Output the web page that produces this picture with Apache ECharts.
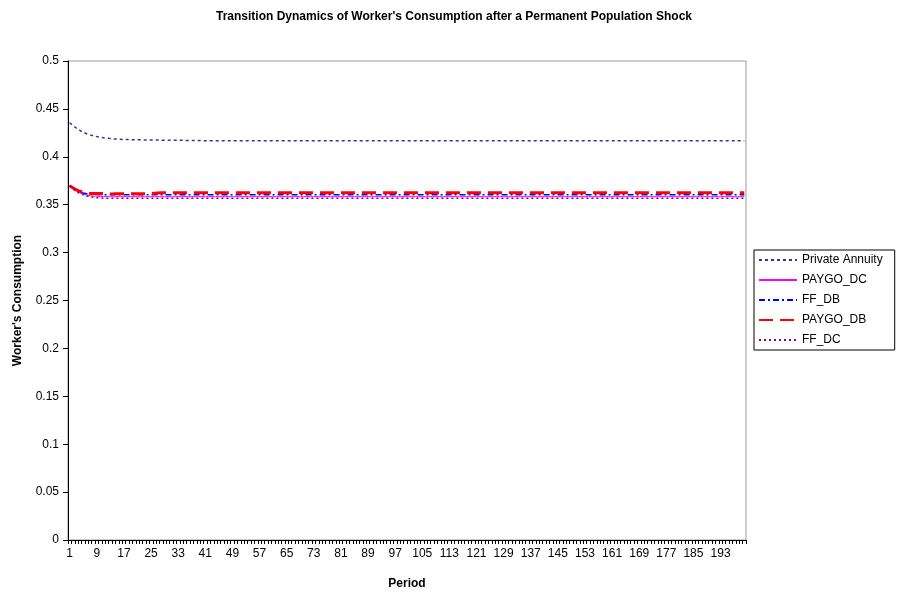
<!DOCTYPE html>
<html>
<head>
<meta charset="utf-8">
<script src="https://cdn.jsdelivr.net/npm/echarts@6/dist/echarts.min.js"></script>
<style>
  html, body { margin: 0; padding: 0; background: #fff; }
  #chart { width: 898px; height: 602px; }
</style>
</head>
<body>
<div id="chart"></div>
<script>
// periods 1..200
const periods = []
for (let i = 1; i <= 200; i++) periods.push(String(i))

const yTicks = { min: 0, max: 0.5, interval: 0.05 }

const privateAnnuity = [
  0.4356, 0.4325, 0.4298, 0.4275, 0.4256, 0.4241, 0.4229, 0.4219, 0.4211, 0.4204, 0.4198, 0.4194, 0.4190, 0.4187, 0.4185, 0.4183, 0.4181, 0.4180, 0.4179, 0.4178,
  0.4177, 0.4177, 0.4176, 0.4176, 0.4175, 0.4175, 0.4175, 0.4174, 0.4174, 0.4174, 0.4173, 0.4173, 0.4173, 0.4172, 0.4171, 0.4170, 0.4170, 0.4169, 0.4169, 0.4169,
  0.4168, 0.4168, 0.4168, 0.4168, 0.4168, 0.4168, 0.4168, 0.4168, 0.4168, 0.4168, 0.4168, 0.4168, 0.4168, 0.4168, 0.4168, 0.4168, 0.4168, 0.4168, 0.4168, 0.4168,
  0.4168, 0.4168, 0.4168, 0.4168, 0.4168, 0.4168, 0.4168, 0.4168, 0.4168, 0.4168, 0.4168, 0.4168, 0.4168, 0.4168, 0.4168, 0.4168, 0.4168, 0.4168, 0.4168, 0.4168,
  0.4168, 0.4168, 0.4168, 0.4168, 0.4168, 0.4168, 0.4168, 0.4168, 0.4168, 0.4168, 0.4168, 0.4168, 0.4168, 0.4168, 0.4168, 0.4168, 0.4168, 0.4168, 0.4168, 0.4168,
  0.4168, 0.4168, 0.4168, 0.4168, 0.4168, 0.4168, 0.4168, 0.4168, 0.4168, 0.4168, 0.4168, 0.4168, 0.4168, 0.4168, 0.4168, 0.4168, 0.4168, 0.4168, 0.4168, 0.4168,
  0.4168, 0.4168, 0.4168, 0.4168, 0.4168, 0.4168, 0.4168, 0.4168, 0.4168, 0.4168, 0.4168, 0.4168, 0.4168, 0.4168, 0.4168, 0.4168, 0.4168, 0.4168, 0.4168, 0.4168,
  0.4168, 0.4168, 0.4168, 0.4168, 0.4168, 0.4168, 0.4168, 0.4168, 0.4168, 0.4168, 0.4168, 0.4168, 0.4168, 0.4168, 0.4168, 0.4168, 0.4168, 0.4168, 0.4168, 0.4168,
  0.4168, 0.4168, 0.4168, 0.4168, 0.4168, 0.4168, 0.4168, 0.4168, 0.4168, 0.4168, 0.4168, 0.4168, 0.4168, 0.4168, 0.4168, 0.4168, 0.4168, 0.4168, 0.4168, 0.4168,
  0.4168, 0.4168, 0.4168, 0.4168, 0.4168, 0.4168, 0.4168, 0.4168, 0.4168, 0.4168, 0.4168, 0.4168, 0.4168, 0.4168, 0.4168, 0.4168, 0.4168, 0.4168, 0.4168, 0.4168
]

const paygoDC = [
  0.3698, 0.3668, 0.3643, 0.3624, 0.3610, 0.3600, 0.3594, 0.3590, 0.3587, 0.3586, 0.3585, 0.3585, 0.3584, 0.3584, 0.3584, 0.3584, 0.3584, 0.3584, 0.3584, 0.3584,
  0.3584, 0.3584, 0.3584, 0.3584, 0.3584, 0.3584, 0.3584, 0.3584, 0.3584, 0.3584, 0.3584, 0.3584, 0.3584, 0.3584, 0.3584, 0.3584, 0.3584, 0.3584, 0.3584, 0.3584,
  0.3584, 0.3584, 0.3584, 0.3584, 0.3584, 0.3584, 0.3584, 0.3584, 0.3584, 0.3584, 0.3584, 0.3584, 0.3584, 0.3584, 0.3584, 0.3584, 0.3584, 0.3584, 0.3584, 0.3584,
  0.3584, 0.3584, 0.3584, 0.3584, 0.3584, 0.3584, 0.3584, 0.3584, 0.3584, 0.3584, 0.3584, 0.3584, 0.3584, 0.3584, 0.3584, 0.3584, 0.3584, 0.3584, 0.3584, 0.3584,
  0.3584, 0.3584, 0.3584, 0.3584, 0.3584, 0.3584, 0.3584, 0.3584, 0.3584, 0.3584, 0.3584, 0.3584, 0.3584, 0.3584, 0.3584, 0.3584, 0.3584, 0.3584, 0.3584, 0.3584,
  0.3584, 0.3584, 0.3584, 0.3584, 0.3584, 0.3584, 0.3584, 0.3584, 0.3584, 0.3584, 0.3584, 0.3584, 0.3584, 0.3584, 0.3584, 0.3584, 0.3584, 0.3584, 0.3584, 0.3584,
  0.3584, 0.3584, 0.3584, 0.3584, 0.3584, 0.3584, 0.3584, 0.3584, 0.3584, 0.3584, 0.3584, 0.3584, 0.3584, 0.3584, 0.3584, 0.3584, 0.3584, 0.3584, 0.3584, 0.3584,
  0.3584, 0.3584, 0.3584, 0.3584, 0.3584, 0.3584, 0.3584, 0.3584, 0.3584, 0.3584, 0.3584, 0.3584, 0.3584, 0.3584, 0.3584, 0.3584, 0.3584, 0.3584, 0.3584, 0.3584,
  0.3584, 0.3584, 0.3584, 0.3584, 0.3584, 0.3584, 0.3584, 0.3584, 0.3584, 0.3584, 0.3584, 0.3584, 0.3584, 0.3584, 0.3584, 0.3584, 0.3584, 0.3584, 0.3584, 0.3584,
  0.3584, 0.3584, 0.3584, 0.3584, 0.3584, 0.3584, 0.3584, 0.3584, 0.3584, 0.3584, 0.3584, 0.3584, 0.3584, 0.3584, 0.3584, 0.3584, 0.3584, 0.3584, 0.3584, 0.3584
]

const ffDB = [
  0.3698, 0.3670, 0.3648, 0.3632, 0.3621, 0.3614, 0.3610, 0.3607, 0.3606, 0.3605, 0.3605, 0.3605, 0.3605, 0.3605, 0.3605, 0.3605, 0.3605, 0.3605, 0.3605, 0.3605,
  0.3605, 0.3605, 0.3605, 0.3605, 0.3605, 0.3605, 0.3605, 0.3605, 0.3605, 0.3605, 0.3605, 0.3605, 0.3605, 0.3605, 0.3605, 0.3605, 0.3605, 0.3605, 0.3605, 0.3605,
  0.3605, 0.3605, 0.3605, 0.3605, 0.3605, 0.3605, 0.3605, 0.3605, 0.3605, 0.3605, 0.3605, 0.3605, 0.3605, 0.3605, 0.3605, 0.3605, 0.3605, 0.3605, 0.3605, 0.3605,
  0.3605, 0.3605, 0.3605, 0.3605, 0.3605, 0.3605, 0.3605, 0.3605, 0.3605, 0.3605, 0.3605, 0.3605, 0.3605, 0.3605, 0.3605, 0.3605, 0.3605, 0.3605, 0.3605, 0.3605,
  0.3605, 0.3605, 0.3605, 0.3605, 0.3605, 0.3605, 0.3605, 0.3605, 0.3605, 0.3605, 0.3605, 0.3605, 0.3605, 0.3605, 0.3605, 0.3605, 0.3605, 0.3605, 0.3605, 0.3605,
  0.3605, 0.3605, 0.3605, 0.3605, 0.3605, 0.3605, 0.3605, 0.3605, 0.3605, 0.3605, 0.3605, 0.3605, 0.3605, 0.3605, 0.3605, 0.3605, 0.3605, 0.3605, 0.3605, 0.3605,
  0.3605, 0.3605, 0.3605, 0.3605, 0.3605, 0.3605, 0.3605, 0.3605, 0.3605, 0.3605, 0.3605, 0.3605, 0.3605, 0.3605, 0.3605, 0.3605, 0.3605, 0.3605, 0.3605, 0.3605,
  0.3605, 0.3605, 0.3605, 0.3605, 0.3605, 0.3605, 0.3605, 0.3605, 0.3605, 0.3605, 0.3605, 0.3605, 0.3605, 0.3605, 0.3605, 0.3605, 0.3605, 0.3605, 0.3605, 0.3605,
  0.3605, 0.3605, 0.3605, 0.3605, 0.3605, 0.3605, 0.3605, 0.3605, 0.3605, 0.3605, 0.3605, 0.3605, 0.3605, 0.3605, 0.3605, 0.3605, 0.3605, 0.3605, 0.3605, 0.3605,
  0.3605, 0.3605, 0.3605, 0.3605, 0.3605, 0.3605, 0.3605, 0.3605, 0.3605, 0.3605, 0.3605, 0.3605, 0.3605, 0.3605, 0.3605, 0.3605, 0.3605, 0.3605, 0.3605, 0.3605
]

const paygoDB = [
  0.3698, 0.3675, 0.3655, 0.3640, 0.3630, 0.3623, 0.3619, 0.3617, 0.3617, 0.3617, 0.3617, 0.3617, 0.3614, 0.3613, 0.3613, 0.3613, 0.3613, 0.3613, 0.3613, 0.3615,
  0.3615, 0.3615, 0.3615, 0.3615, 0.3615, 0.3620, 0.3623, 0.3624, 0.3624, 0.3624, 0.3624, 0.3624, 0.3624, 0.3624, 0.3624, 0.3624, 0.3624, 0.3624, 0.3624, 0.3624,
  0.3624, 0.3624, 0.3624, 0.3624, 0.3624, 0.3624, 0.3624, 0.3624, 0.3624, 0.3624, 0.3624, 0.3624, 0.3624, 0.3624, 0.3624, 0.3624, 0.3624, 0.3624, 0.3624, 0.3624,
  0.3624, 0.3624, 0.3624, 0.3624, 0.3624, 0.3624, 0.3624, 0.3624, 0.3624, 0.3624, 0.3624, 0.3624, 0.3624, 0.3624, 0.3624, 0.3624, 0.3624, 0.3624, 0.3624, 0.3624,
  0.3624, 0.3624, 0.3624, 0.3624, 0.3624, 0.3624, 0.3624, 0.3624, 0.3624, 0.3624, 0.3624, 0.3624, 0.3624, 0.3624, 0.3624, 0.3624, 0.3624, 0.3624, 0.3624, 0.3624,
  0.3624, 0.3624, 0.3624, 0.3624, 0.3624, 0.3624, 0.3624, 0.3624, 0.3624, 0.3624, 0.3624, 0.3624, 0.3624, 0.3624, 0.3624, 0.3624, 0.3624, 0.3624, 0.3624, 0.3624,
  0.3624, 0.3624, 0.3624, 0.3624, 0.3624, 0.3624, 0.3624, 0.3624, 0.3624, 0.3624, 0.3624, 0.3624, 0.3624, 0.3624, 0.3624, 0.3624, 0.3624, 0.3624, 0.3624, 0.3624,
  0.3624, 0.3624, 0.3624, 0.3624, 0.3624, 0.3624, 0.3624, 0.3624, 0.3624, 0.3624, 0.3624, 0.3624, 0.3624, 0.3624, 0.3624, 0.3624, 0.3624, 0.3624, 0.3624, 0.3624,
  0.3624, 0.3624, 0.3624, 0.3624, 0.3624, 0.3624, 0.3624, 0.3624, 0.3624, 0.3624, 0.3624, 0.3624, 0.3624, 0.3624, 0.3624, 0.3624, 0.3624, 0.3624, 0.3624, 0.3624,
  0.3624, 0.3624, 0.3624, 0.3624, 0.3624, 0.3624, 0.3624, 0.3624, 0.3624, 0.3624, 0.3624, 0.3624, 0.3624, 0.3624, 0.3624, 0.3624, 0.3624, 0.3624, 0.3624, 0.3624
]

const ffDC = [
  0.3698, 0.3665, 0.3638, 0.3617, 0.3602, 0.3591, 0.3583, 0.3577, 0.3573, 0.3570, 0.3568, 0.3567, 0.3567, 0.3567, 0.3567, 0.3567, 0.3567, 0.3567, 0.3567, 0.3567,
  0.3567, 0.3567, 0.3567, 0.3567, 0.3567, 0.3567, 0.3567, 0.3567, 0.3567, 0.3567, 0.3567, 0.3567, 0.3567, 0.3567, 0.3567, 0.3567, 0.3567, 0.3567, 0.3567, 0.3567,
  0.3567, 0.3567, 0.3567, 0.3567, 0.3567, 0.3567, 0.3567, 0.3567, 0.3567, 0.3567, 0.3567, 0.3567, 0.3567, 0.3567, 0.3567, 0.3567, 0.3567, 0.3567, 0.3567, 0.3567,
  0.3567, 0.3567, 0.3567, 0.3567, 0.3567, 0.3567, 0.3567, 0.3567, 0.3567, 0.3567, 0.3567, 0.3567, 0.3567, 0.3567, 0.3567, 0.3567, 0.3567, 0.3567, 0.3567, 0.3567,
  0.3567, 0.3567, 0.3567, 0.3567, 0.3567, 0.3567, 0.3567, 0.3567, 0.3567, 0.3567, 0.3567, 0.3567, 0.3567, 0.3567, 0.3567, 0.3567, 0.3567, 0.3567, 0.3567, 0.3567,
  0.3567, 0.3567, 0.3567, 0.3567, 0.3567, 0.3567, 0.3567, 0.3567, 0.3567, 0.3567, 0.3567, 0.3567, 0.3567, 0.3567, 0.3567, 0.3567, 0.3567, 0.3567, 0.3567, 0.3567,
  0.3567, 0.3567, 0.3567, 0.3567, 0.3567, 0.3567, 0.3567, 0.3567, 0.3567, 0.3567, 0.3567, 0.3567, 0.3567, 0.3567, 0.3567, 0.3567, 0.3567, 0.3567, 0.3567, 0.3567,
  0.3567, 0.3567, 0.3567, 0.3567, 0.3567, 0.3567, 0.3567, 0.3567, 0.3567, 0.3567, 0.3567, 0.3567, 0.3567, 0.3567, 0.3567, 0.3567, 0.3567, 0.3567, 0.3567, 0.3567,
  0.3567, 0.3567, 0.3567, 0.3567, 0.3567, 0.3567, 0.3567, 0.3567, 0.3567, 0.3567, 0.3567, 0.3567, 0.3567, 0.3567, 0.3567, 0.3567, 0.3567, 0.3567, 0.3567, 0.3567,
  0.3567, 0.3567, 0.3567, 0.3567, 0.3567, 0.3567, 0.3567, 0.3567, 0.3567, 0.3567, 0.3567, 0.3567, 0.3567, 0.3567, 0.3567, 0.3567, 0.3567, 0.3567, 0.3567, 0.3567
]

const font = 'Liberation Sans, Arial, sans-serif'

const chart = echarts.init(document.getElementById('chart'))

function lineSeries(name, data, color, width, type) {
  return {
    name: name,
    type: 'line',
    data: data,
    symbol: 'none',
    showSymbol: false,
    smooth: false,
    animation: false,
    lineStyle: { color: color, width: width, type: type },
    itemStyle: { color: color }
  }
}

chart.setOption({
  animation: false,
  backgroundColor: '#fff',
  title: {
    text: "Transition Dynamics of Worker's Consumption after a Permanent Population Shock",
    left: 449,
    textAlign: 'center',
    top: 6,
    textStyle: { fontFamily: font, fontSize: 12, fontWeight: 'bold', color: '#000' }
  },
  legend: {
    orient: 'vertical',
    left: 754,
    top: 250,
    padding: [4, 12, 4, 4],
    itemWidth: 38,
    itemHeight: 12,
    itemGap: 8,
    // hide the marker dot, keep only the line sample
    itemStyle: { opacity: 0, borderWidth: 0 },
    borderColor: '#000',
    borderWidth: 1,
    borderRadius: 0,
    textStyle: { fontFamily: font, fontSize: 12, color: '#000' },
    data: ['Private Annuity', 'PAYGO_DC', 'FF_DB', 'PAYGO_DB', 'FF_DC']
  },
  grid: {
    left: 68,
    right: 152,
    top: 61,
    bottom: 62,
    show: true,
    borderColor: '#999',
    borderWidth: 1,
    containLabel: false
  },
  xAxis: {
    type: 'category',
    data: periods,
    boundaryGap: true,
    name: 'Period',
    nameLocation: 'middle',
    nameGap: 38,
    nameTextStyle: { fontFamily: font, fontSize: 12, fontWeight: 'bold', color: '#000' },
    axisLine: { lineStyle: { color: '#000', width: 1 } },
    axisTick: { show: true, interval: 0, length: 4, lineStyle: { color: '#000' } },
    axisLabel: { interval: 7, margin: 8, fontFamily: font, fontSize: 12, color: '#000' },
    splitLine: { show: false }
  },
  yAxis: {
    type: 'value',
    min: yTicks.min,
    max: yTicks.max,
    interval: yTicks.interval,
    name: "Worker's Consumption",
    nameLocation: 'middle',
    nameRotate: 90,
    nameGap: 44,
    nameTextStyle: { fontFamily: font, fontSize: 12, fontWeight: 'bold', color: '#000' },
    axisLine: { show: true, lineStyle: { color: '#000', width: 1 } },
    axisTick: { show: true, length: 5, lineStyle: { color: '#000' } },
    axisLabel: { margin: 9, fontFamily: font, fontSize: 12, color: '#000' },
    splitLine: { show: false }
  },
  series: [
    lineSeries('Private Annuity', privateAnnuity, '#333399', 1.5, [3, 3]),
    lineSeries('PAYGO_DC', paygoDC, '#ff00ff', 1, 'solid'),
    lineSeries('FF_DB', ffDB, '#0000ff', 1.5, [6, 3, 2, 3]),
    lineSeries('PAYGO_DB', paygoDB, '#ff0000', 3, [14, 7]),
    lineSeries('FF_DC', ffDC, '#800080', 1.5, [2, 3])
  ]
})
</script>
</body>
</html>
